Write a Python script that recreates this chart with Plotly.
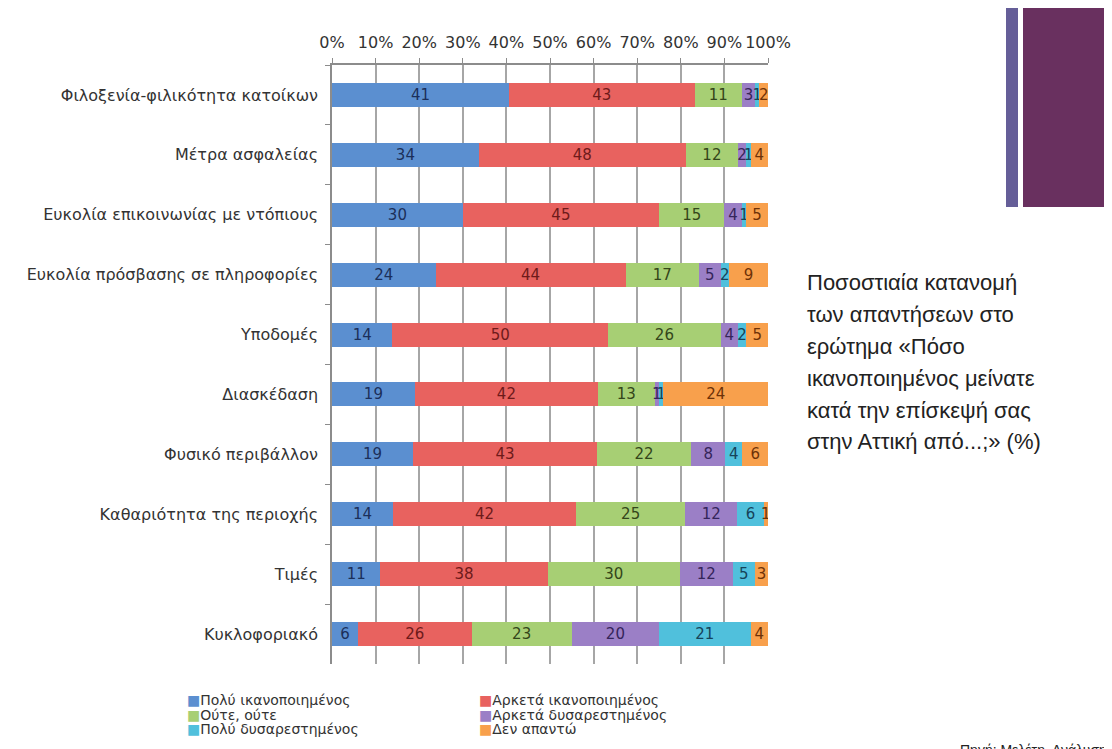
import plotly.graph_objects as go

categories = [
    "Φιλοξενία-φιλικότητα κατοίκων",
    "Μέτρα ασφαλείας",
    "Ευκολία επικοινωνίας με ντόπιους",
    "Ευκολία πρόσβασης σε πληροφορίες",
    "Υποδομές",
    "Διασκέδαση",
    "Φυσικό περιβάλλον",
    "Καθαριότητα της περιοχής",
    "Τιμές",
    "Κυκλοφοριακό",
]
series_names = [
    "Πολύ ικανοποιημένος",
    "Αρκετά ικανοποιημένος",
    "Ούτε, ούτε",
    "Αρκετά δυσαρεστημένος",
    "Πολύ δυσαρεστημένος",
    "Δεν απαντώ",
]
poly_ikan = [41, 34, 30, 24, 14, 19, 19, 14, 11, 6]
arketa_ikan = [43, 48, 45, 44, 50, 42, 43, 42, 38, 26]
oute_oute = [11, 12, 15, 17, 26, 13, 22, 25, 30, 23]
arketa_dysar = [3, 2, 4, 5, 4, 1, 8, 12, 12, 20]
poly_dysar = [1, 1, 1, 2, 2, 1, 4, 6, 5, 21]
den_apanto = [2, 4, 5, 9, 5, 24, 6, 1, 3, 4]
tick_vals = [0, 10, 20, 30, 40, 50, 60, 70, 80, 90, 100]
tick_text = ["0%", "10%", "20%", "30%", "40%", "50%", "60%", "70%", "80%", "90%", "100%"]

series_values = [poly_ikan, arketa_ikan, oute_oute, arketa_dysar, poly_dysar, den_apanto]
bar_colors = ["#5b8fd0", "#e8625f", "#a7cf74", "#9b7fc6", "#50c0dc", "#f8a04c"]
text_colors = ["#1b2f5a", "#6e1a1a", "#34461a", "#35255a", "#16445a", "#6e3208"]

# page offset (body margin) of 8 px
OFF = 8
W, H = 1112 - OFF, 749 - OFF
L, T = 332 - OFF, 65 - OFF
R, B = W - (768 - OFF), H - (664 - OFF)
PW, PH = W - L - R, H - T - B

def px_x(p):
    return (p - OFF - L) / PW

def px_y(p):
    return 1 - (p - OFF - T) / PH

fig = go.Figure()
for name, vals, col, tcol in zip(series_names, series_values, bar_colors, text_colors):
    fig.add_trace(go.Bar(
        y=categories, x=vals, name=name, orientation="h",
        marker=dict(color=col, line=dict(width=0)),
        text=[str(v) for v in vals], textposition="inside",
        insidetextanchor="middle", textangle=0, constraintext="none",
        textfont=dict(family="DejaVu Sans", size=15, color=tcol),
        showlegend=False,
    ))

fig.update_layout(
    width=W, height=H,
    margin=dict(l=L, r=R, t=T, b=B, autoexpand=False),
    barmode="stack", barnorm="percent", bargap=0.6,
    plot_bgcolor="white", paper_bgcolor="white",
    uniformtext=dict(minsize=15, mode="show"),
    font=dict(family="DejaVu Sans", color="#333333"),
    xaxis=dict(
        side="top", range=[0, 100], tickvals=tick_vals, ticktext=tick_text,
        showgrid=True, gridcolor="#a6a6a6", gridwidth=1.5,
        showline=True, linecolor="#8c8c8c", linewidth=1.5,
        ticks="outside", ticklen=5, tickcolor="#8c8c8c",
        tickfont=dict(family="DejaVu Sans", size=16, color="#333333"),
        ticklabelstandoff=4,
        zeroline=False, fixedrange=True,
    ),
    yaxis=dict(
        categoryorder="array", categoryarray=categories, autorange="reversed",
        showline=True, linecolor="#8c8c8c", linewidth=1.5,
        ticks="outside", ticklen=5, tickcolor="#8c8c8c", tickson="boundaries",
        tickfont=dict(family="DejaVu Sans", size=16, color="#333333"),
        ticklabelstandoff=9, showgrid=False,
    ),
)

# decorative bars on the right
fig.add_shape(type="rect", xref="paper", yref="paper",
              x0=px_x(1006), x1=px_x(1018), y0=px_y(207), y1=px_y(0),
              fillcolor="#655e98", line=dict(width=0), layer="above")
fig.add_shape(type="rect", xref="paper", yref="paper",
              x0=px_x(1023), x1=px_x(1104), y0=px_y(207), y1=px_y(0),
              fillcolor="#69305f", line=dict(width=0), layer="above")

# side description text
desc_lines = [
    "Ποσοστιαία κατανομή",
    "των απαντήσεων στο",
    "ερώτημα «Πόσο",
    "ικανοποιημένος μείνατε",
    "κατά την επίσκεψή σας",
    "στην Αττική από...;» (%)",
]
desc_y = [282, 314, 346, 378, 410, 441]
for line, yy in zip(desc_lines, desc_y):
    fig.add_annotation(text=line, xref="paper", yref="paper",
                       x=px_x(805), y=px_y(yy), xanchor="left", yanchor="middle",
                       showarrow=False,
                       font=dict(family="Liberation Sans", size=22, color="#222222"))

# legend drawn as text
leg_pos = [(185, 700), (477, 700), (185, 714.5), (477, 714.5), (185, 729), (477, 729)]
for name, col, (lx, ly) in zip(series_names, bar_colors, leg_pos):
    fig.add_annotation(text=f'<span style="color:{col}">■</span>{name}',
                       xref="paper", yref="paper", x=px_x(lx), y=px_y(ly),
                       xanchor="left", yanchor="middle", showarrow=False,
                       font=dict(family="DejaVu Sans", size=14, color="#333333"))

fig.add_annotation(text="Πηγή: Μελέτη, Ανάλυση", xref="paper", yref="paper",
                   x=px_x(958), y=px_y(740), xanchor="left", yanchor="top",
                   showarrow=False,
                   font=dict(family="Liberation Sans", size=14, color="#222222"))

fig.write_html("out.html")
